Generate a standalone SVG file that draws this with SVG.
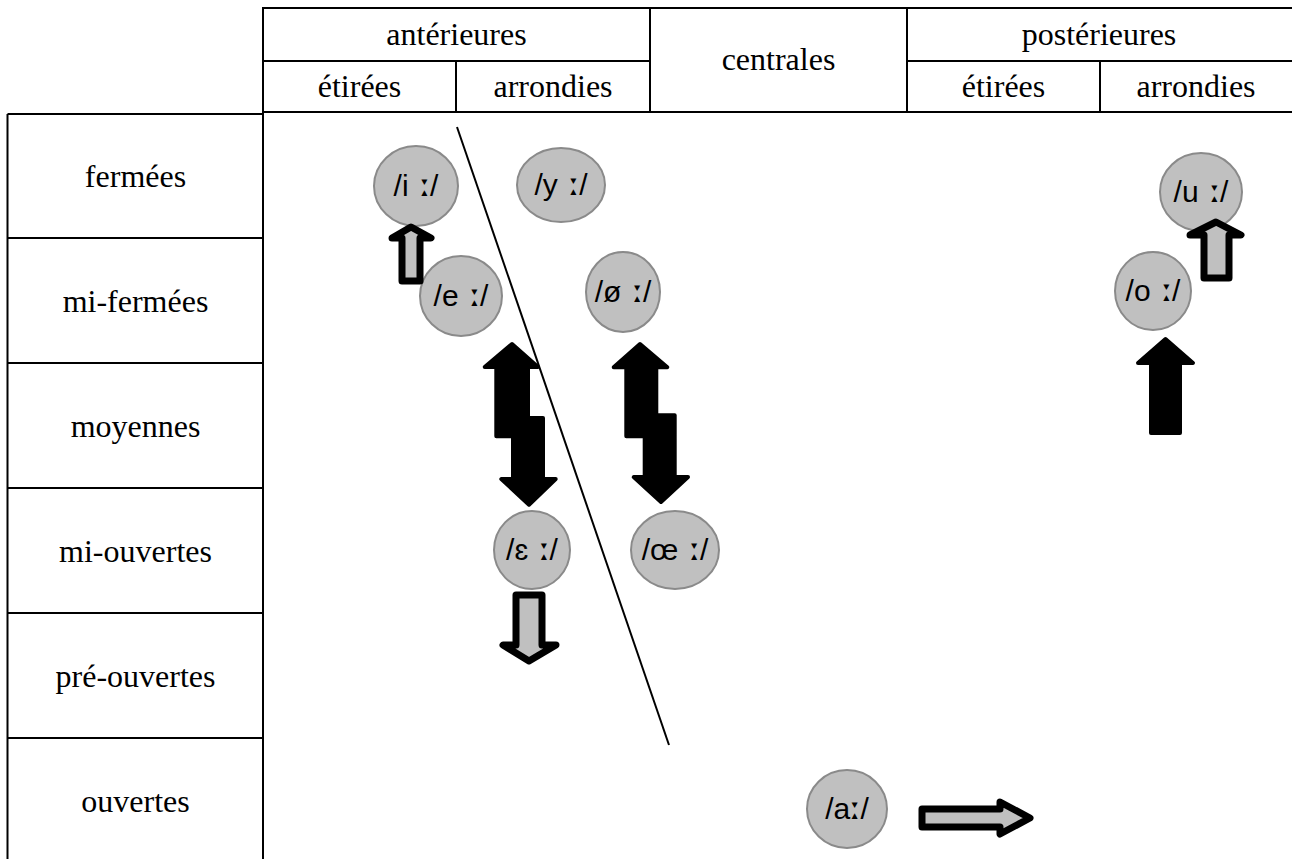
<svg xmlns="http://www.w3.org/2000/svg" width="1292" height="859" viewBox="0 0 1292 859">
<style>
  .grid { stroke: #000; stroke-width: 2; fill: none; }
  .hdr { font-family: "Liberation Serif", "Times New Roman", serif; font-size: 32px; fill: #000; text-anchor: middle; }
  .v { fill: #c0c0c0; stroke: #8a8a8a; stroke-width: 2; }
  .vt { font-family: "Liberation Sans", Arial, "DejaVu Sans", sans-serif; font-size: 30px; fill: #000; text-anchor: middle; word-spacing: 3px; }
  .lm { font-family: "DejaVu Sans", sans-serif; font-weight: bold; }
  .hollow { fill: #c0c0c0; stroke: #000; stroke-width: 7; stroke-linejoin: round; }
  .solid { fill: #000; stroke: #000; stroke-width: 4; stroke-linejoin: round; }
</style>
<rect width="1292" height="859" fill="#fff"/>
<g id="table">
  <path class="grid" d="M263,8 H1292 M263,61 H650 M907,61 H1292 M263,112 H1292 M263,7 V859 M456,61 V112 M650,8 V112 M907,8 V112 M1100,61 V112"/>
  <path class="grid" d="M7.5,114 H263 M7.5,238 H263 M7.5,363 H263 M7.5,488 H263 M7.5,613 H263 M7.5,738 H263 M7.5,114 V859"/>
  <text class="hdr" x="456.5" y="45">antérieures</text>
  <text class="hdr" x="359.5" y="97">étirées</text>
  <text class="hdr" x="553" y="97">arrondies</text>
  <text class="hdr" x="778.5" y="70">centrales</text>
  <text class="hdr" x="1099" y="45">postérieures</text>
  <text class="hdr" x="1003.5" y="97">étirées</text>
  <text class="hdr" x="1196" y="97">arrondies</text>
  <text class="hdr" x="135.5" y="187">fermées</text>
  <text class="hdr" x="135.5" y="312">mi-fermées</text>
  <text class="hdr" x="135.5" y="437">moyennes</text>
  <text class="hdr" x="135.5" y="562">mi-ouvertes</text>
  <text class="hdr" x="135.5" y="687">pré-ouvertes</text>
  <text class="hdr" x="135.5" y="812">ouvertes</text>
</g>
<line id="divider" x1="457" y1="127" x2="669" y2="745" stroke="#000" stroke-width="2"/>
<g id="v-i"><ellipse class="v" cx="416" cy="186" rx="42" ry="40"/><text class="vt" x="416" y="196">/i <tspan class="lm">ː</tspan>/</text></g>
<g id="v-y"><ellipse class="v" cx="561" cy="185" rx="44" ry="37"/><text class="vt" x="561" y="195">/y <tspan class="lm">ː</tspan>/</text></g>
<g id="v-e"><ellipse class="v" cx="461" cy="296" rx="41" ry="40"/><text class="vt" x="461" y="306">/e <tspan class="lm">ː</tspan>/</text></g>
<g id="v-oe-slash"><ellipse class="v" cx="623" cy="292" rx="37" ry="40"/><text class="vt" x="623" y="302">/ø <tspan class="lm">ː</tspan>/</text></g>
<g id="v-u"><ellipse class="v" cx="1201" cy="192" rx="41" ry="39"/><text class="vt" x="1201" y="202">/u <tspan class="lm">ː</tspan>/</text></g>
<g id="v-o"><ellipse class="v" cx="1153" cy="291" rx="38" ry="39"/><text class="vt" x="1153" y="301">/o <tspan class="lm">ː</tspan>/</text></g>
<g id="v-epsilon"><ellipse class="v" cx="532" cy="550" rx="38" ry="39"/><text class="vt" x="532" y="560">/ɛ <tspan class="lm">ː</tspan>/</text></g>
<g id="v-oe"><ellipse class="v" cx="675" cy="550" rx="44" ry="39"/><text class="vt" x="675" y="560">/œ <tspan class="lm">ː</tspan>/</text></g>
<g id="v-a"><ellipse class="v" cx="847" cy="809" rx="40" ry="39"/><text class="vt" x="847" y="819">/a<tspan class="lm">ː</tspan>/</text></g>
<g id="connectors">
  <path class="hollow" d="M411,227 L431,238 L420,238 L420,281 L402,281 L402,238 L392,238 Z"/>
  <path class="hollow" d="M1216,222 L1241,235 L1229,235 L1229,278 L1204,278 L1204,235 L1190,235 Z"/>
  <path class="solid" d="M1165.5,339 L1193,363 L1180,363 L1180,433 L1151,433 L1151,363 L1138,363 Z"/>
  <path class="solid" d="M512,344 L538,367 L528,367 L528,418 L543,418 L543,479 L555.7,479 L529,504.7 L501.3,479 L513,479 L513,436.3 L496.3,436.3 L496.3,367 L484.7,367 Z"/>
  <path class="solid" d="M640,344 L667.3,367.3 L656.3,367.3 L656.3,415.3 L674.7,415.3 L674.7,477 L688,477 L661,502 L633.7,477 L644.7,477 L644.7,436.3 L626.3,436.3 L626.3,367.3 L613.7,367.3 Z"/>
  <path class="hollow" d="M516,595 L542,595 L542,645 L556,645 L529,661 L503,645 L516,645 Z"/>
  <path class="hollow" d="M922,809 L1000,809 L1000,802 L1030,818 L1000,834 L1000,827 L922,827 Z"/>
</g>
</svg>
